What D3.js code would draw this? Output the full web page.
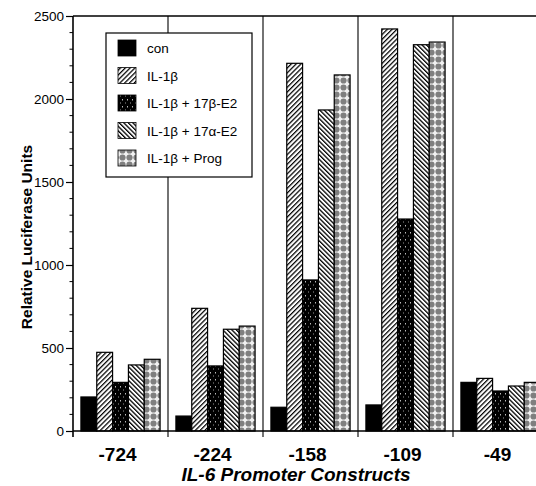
<!DOCTYPE html>
<html><head><meta charset="utf-8">
<script src="https://cdn.jsdelivr.net/npm/d3@7"></script>
<style>body{margin:0;background:#fff}svg{display:block;font-family:"Liberation Sans",Arial,sans-serif}</style>
</head><body><svg id="c" width="536" height="486"></svg>
<script>
const categories = ["-724","-224","-158","-109","-49"];
const seriesNames = ["con","IL-1β","IL-1β + 17β-E2","IL-1β + 17α-E2","IL-1β + Prog"];
const conVals  = [205, 90, 143, 157, 293];
const il1bVals = [474, 739, 2215, 2422, 317];
const e2bVals  = [293, 392, 910, 1277, 241];
const e2aVals  = [398, 613, 1934, 2327, 271];
const progVals = [432, 632, 2145, 2343, 293];
const yTicks = [0, 500, 1000, 1500, 2000, 2500];
const seriesVals = [conVals, il1bVals, e2bVals, e2aVals, progVals];
const fills = ["#000", "url(#pHatchF)", "url(#pSpeck)", "url(#pHatchB)", "url(#pDots)"];

const svg = d3.select("#c");
const defs = svg.append("defs");
let p = defs.append("pattern").attr("id","pHatchF").attr("patternUnits","userSpaceOnUse")
  .attr("width",3.4).attr("height",3.4).attr("patternTransform","rotate(45)");
p.append("rect").attr("width",3.4).attr("height",3.4).attr("fill","#fff");
p.append("line").attr("x1",0.6).attr("x2",0.6).attr("y1",0).attr("y2",3.4).attr("stroke","#000").attr("stroke-width",1.3);
p = defs.append("pattern").attr("id","pHatchB").attr("patternUnits","userSpaceOnUse")
  .attr("width",3.2).attr("height",3.2).attr("patternTransform","rotate(-45)");
p.append("rect").attr("width",3.2).attr("height",3.2).attr("fill","#fff");
p.append("line").attr("x1",0.6).attr("x2",0.6).attr("y1",0).attr("y2",3.2).attr("stroke","#000").attr("stroke-width",1.4);
p = defs.append("pattern").attr("id","pSpeck").attr("patternUnits","userSpaceOnUse")
  .attr("width",5).attr("height",7);
p.append("rect").attr("width",5).attr("height",7).attr("fill","#000");
p.append("rect").attr("x",2).attr("y",1).attr("width",1).attr("height",1.5).attr("fill","#bbb");
p.append("rect").attr("x",0).attr("y",4.5).attr("width",1).attr("height",1).attr("fill","#999");
p = defs.append("pattern").attr("id","pDots").attr("patternUnits","userSpaceOnUse")
  .attr("width",7).attr("height",7);
p.append("rect").attr("width",7).attr("height",7).attr("fill","#f2f2f2");
p.append("circle").attr("cx",3.5).attr("cy",3.5).attr("r",3.1).attr("fill","#7f7f7f");

const x0 = 73, x1 = 548, yTop = 16, yBot = 431;
const x = d3.scaleBand().domain(categories).range([x0, x1]).padding(0);
const xs = d3.scaleBand().domain(seriesNames).range([0, x.bandwidth()]).paddingInner(0).paddingOuter(0.5);
const y = d3.scaleLinear().domain([0, 2500]).range([yBot, yTop]);

categories.forEach((c, ci) => {
  const g = svg.append("g").attr("transform", `translate(${x(c)},0)`);
  g.selectAll("rect").data(seriesNames).join("rect")
    .attr("x", s => xs(s)).attr("width", xs.bandwidth())
    .attr("y", (s, si) => y(seriesVals[si][ci]))
    .attr("height", (s, si) => yBot - y(seriesVals[si][ci]))
    .attr("fill", (s, si) => fills[si])
    .attr("stroke", "#000").attr("stroke-width", 1.2);
});

svg.append("g").selectAll("line").data(categories.slice(1)).join("line")
  .attr("x1", d => x(d)).attr("x2", d => x(d)).attr("y1", yTop).attr("y2", yBot + 6)
  .attr("stroke", "#000").attr("stroke-width", 1.1);
svg.append("line").attr("x1", x0).attr("x2", 536).attr("y1", yTop).attr("y2", yTop).attr("stroke","#000").attr("stroke-width",1.3);

const yAxis = d3.axisLeft(y).tickValues(yTicks).tickSize(7).tickPadding(2).tickFormat(d3.format("d"));
const ya = svg.append("g").attr("transform", `translate(${x0},0)`).call(yAxis);
ya.select(".domain").remove();
ya.selectAll("text").attr("font-size", 13.5).attr("fill","#000").attr("font-family","Liberation Sans, Arial, sans-serif");
ya.selectAll("line").attr("stroke-width", 1.2);
const minor = d3.range(0, 2501, 100).filter(v => v % 500 !== 0);
svg.append("g").selectAll("line").data(minor).join("line")
  .attr("x1", x0 - 3.5).attr("x2", x0).attr("y1", d => y(d)).attr("y2", d => y(d))
  .attr("stroke", "#000").attr("stroke-width", 1);
svg.append("line").attr("x1", x0).attr("x2", x0).attr("y1", yTop).attr("y2", yBot + 6).attr("stroke","#000").attr("stroke-width",1.6);

const xAxis = d3.axisBottom(x).tickSize(0).tickPadding(14);
const xa = svg.append("g").attr("transform", `translate(0,${yBot})`).call(xAxis);
xa.select(".domain").remove();
xa.selectAll("text").attr("font-size", 19).attr("font-weight","bold").attr("fill","#000")
  .attr("dx", -3).attr("dy", "0.85em").attr("font-family","Liberation Sans, Arial, sans-serif");
svg.append("line").attr("x1", x0).attr("x2", 536).attr("y1", yBot).attr("y2", yBot).attr("stroke","#000").attr("stroke-width",1.6);

svg.append("text").attr("x", 296).attr("y", 481).attr("text-anchor","middle")
  .attr("font-size", 19).attr("font-weight","bold").attr("font-style","italic").text("IL-6 Promoter Constructs");
svg.append("text").attr("transform","translate(32,237) rotate(-90)").attr("text-anchor","middle")
  .attr("font-size", 15.5).attr("font-weight","bold").text("Relative Luciferase Units");

const lg = svg.append("g");
lg.append("rect").attr("x",106).attr("y",33).attr("width",146).attr("height",144).attr("fill","#fff").attr("stroke","#000").attr("stroke-width",1.2);
const rowY = d3.scalePoint().domain(seriesNames).range([48, 158]);
seriesNames.forEach((s, i) => {
  lg.append("rect").attr("x",118).attr("y",rowY(s)-8).attr("width",18).attr("height",16)
    .attr("fill", fills[i]).attr("stroke","#000").attr("stroke-width",0.8);
  lg.append("text").attr("x",147).attr("y",rowY(s)+5).attr("font-size",13.5).text(s);
});
</script></body></html>
